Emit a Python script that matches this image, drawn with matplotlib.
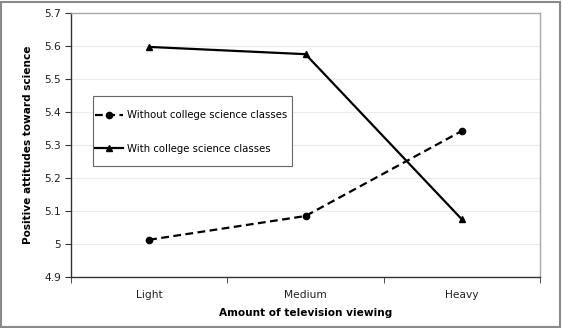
import matplotlib.pyplot as plt
from matplotlib.patches import Rectangle

plt.rcParams['font.family'] = ['DejaVu Sans']

# data
categories = ["Light", "Medium", "Heavy"]
without_classes = [5.013, 5.085, 5.343]
with_classes = [5.598, 5.576, 5.075]
y_ticks = [4.9, 5.0, 5.1, 5.2, 5.3, 5.4, 5.5, 5.6, 5.7]
y_tick_labels = ["4.9", "5", "5.1", "5.2", "5.3", "5.4", "5.5", "5.6", "5.7"]

W, H = 562, 328
fig = plt.figure(figsize=(W / 100, H / 100), dpi=100)
fig.patch.set_facecolor("white")

# outer gray frame
fig.patches.append(Rectangle((1 / W, 1 / H), 1 - 3 / W, 1 - 3 / H, transform=fig.transFigure,
                             fill=False, edgecolor="#8a8a8a", linewidth=1.5))

# plot area in pixels (left, right, top, bottom)
L, R, T, B = 71, 540, 13.3, 277
ax = fig.add_axes([L / W, 1 - B / H, (R - L) / W, (B - T) / H])

def to_axes(px, py):
    return (px - L) / (R - L), (B - py) / (B - T)

x = list(range(len(categories)))
ax.plot(x, without_classes, color="black", linestyle=(0, (3.5, 2)), linewidth=1.6,
        marker="o", markersize=4.5, label="Without college science classes")
ax.plot(x, with_classes, color="black", linestyle="-", linewidth=1.6,
        marker="^", markersize=5, label="With college science classes")

ax.set_xlim(-0.5, 2.5)
ax.set_ylim(4.9, 5.7)
ax.set_yticks(y_ticks)
ax.set_yticklabels(y_tick_labels)
ax.set_xticks(x)
ax.set_xticklabels(categories)
ax.set_xticks([-0.5, 0.5, 1.5, 2.5], minor=True)

ax.tick_params(axis="x", which="major", length=0, pad=9, labelsize=7.7, colors="#222222")
ax.tick_params(axis="x", which="minor", length=4, direction="out", color="#333333")
ax.tick_params(axis="y", length=4, direction="out", pad=3, labelsize=7.7, colors="#222222")
ax.tick_params(axis="y", color="#333333")

ax.grid(axis="y", color="#ececec", linewidth=0.8)
ax.set_axisbelow(True)

for side in ["top", "right"]:
    ax.spines[side].set_color("#a8a8a8")
    ax.spines[side].set_linewidth(1)
for side in ["left", "bottom"]:
    ax.spines[side].set_color("#333333")
    ax.spines[side].set_linewidth(1)

ax.set_xlabel("Amount of television viewing", fontsize=7.6, fontweight="bold", labelpad=6)
ax.set_ylabel("Positive attitudes toward science", fontsize=7.6, fontweight="bold", labelpad=8)

# legend box drawn separately so its padding can match the original
bx0, by0 = to_axes(93, 166)
bx1, by1 = to_axes(292, 96)
ax.add_patch(Rectangle((bx0, by0), bx1 - bx0, by1 - by0, transform=ax.transAxes,
                       facecolor="white", edgecolor="#666666", linewidth=0.8, zorder=4))
leg = ax.legend(loc="center left", bbox_to_anchor=to_axes(95, 132),
                fontsize=7.3, frameon=False, handlelength=2.8, handletextpad=0.35,
                labelspacing=2.3, borderpad=0, borderaxespad=0)
leg.set_zorder(5)

fig.savefig("out.png", dpi=100)
